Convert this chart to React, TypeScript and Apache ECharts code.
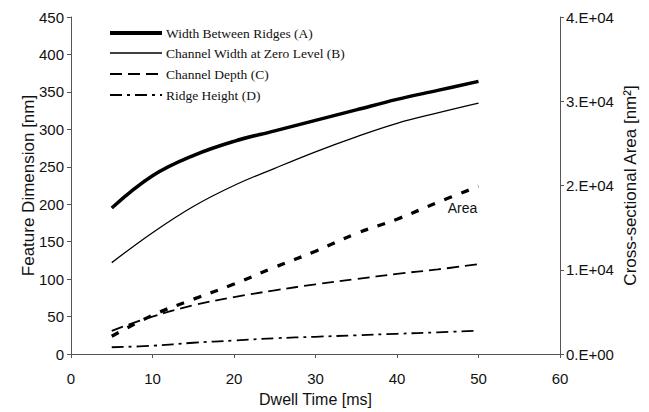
import React, { useEffect, useRef } from "react";
import * as echarts from "echarts";

const dwellTime = [5, 10, 15, 20, 25, 30, 35, 40, 45, 50];
const widthBetweenRidges = [195, 238, 265, 284, 298, 312, 326, 340, 352, 364];
const channelWidthZero = [122, 162, 197, 225, 248, 270, 290, 308, 322, 335];
const channelDepth = [31, 50, 65, 76, 85, 93, 100, 107, 113, 120];
const ridgeHeight = [9, 11, 15, 18, 21, 23, 25, 27, 29, 31];
const crossArea = [2100, 4600, 6500, 8300, 10300, 12200, 14300, 16000, 18000, 19900];

const legendNames = [
  "Width Between Ridges (A)",
  "Channel Width at Zero Level (B)",
  "Channel Depth (C)",
  "Ridge Height (D)",
];

const pair = (ys: number[]) => dwellTime.map((x, i) => [x, ys[i]]);

export default function App() {
  const ref = useRef<HTMLDivElement>(null);
  useEffect(() => {
    if (!ref.current) return;
    const chart = echarts.init(ref.current, undefined, { renderer: "svg" });
    const axisColor = "#555";
    const txt = "#111";
    const sans = "Liberation Sans, Arial, sans-serif";
    const serif = "Liberation Serif, Times New Roman, serif";
    const legendStyles = [
      { lineWidth: 4, lineDash: null },
      { lineWidth: 1.5, lineDash: null },
      { lineWidth: 2, lineDash: [12, 6] },
      { lineWidth: 2, lineDash: [12, 5, 3, 5] },
    ];
    const legendY = [33, 53, 74, 95];
    const graphic: any[] = [];
    legendNames.forEach((n, i) => {
      graphic.push({
        type: "line",
        shape: { x1: 110, y1: legendY[i], x2: 162, y2: legendY[i] },
        style: {
          stroke: "#000",
          lineWidth: legendStyles[i].lineWidth,
          lineDash: legendStyles[i].lineDash,
        },
      });
      graphic.push({
        type: "text",
        x: 166,
        y: legendY[i],
        style: {
          text: n,
          fill: txt,
          font: `13.5px ${serif}`,
          verticalAlign: "middle",
          textAlign: "left",
        },
      });
    });

    chart.setOption({
      animation: false,
      backgroundColor: "#fff",
      grid: { left: 71, right: 89, top: 17, bottom: 54 },
      xAxis: {
        type: "value",
        min: 0,
        max: 60,
        interval: 10,
        name: "Dwell Time [ms]",
        nameLocation: "middle",
        nameGap: 37,
        nameTextStyle: { fontFamily: sans, fontSize: 16, color: txt },
        axisLine: { lineStyle: { color: axisColor, width: 1 } },
        axisTick: { show: true, length: 4, lineStyle: { color: axisColor } },
        axisLabel: { fontFamily: sans, fontSize: 15, color: txt, margin: 17 },
        splitLine: { show: false },
      },
      yAxis: [
        {
          type: "value",
          min: 0,
          max: 450,
          interval: 50,
          name: "Feature Dimension [nm]",
          nameLocation: "middle",
          nameRotate: 90,
          nameGap: 34,
          nameMoveOverlap: false,
          nameTextStyle: { fontFamily: sans, fontSize: 17, color: txt },
          axisLine: { show: true, lineStyle: { color: axisColor, width: 1 } },
          axisTick: { show: true, length: 4, lineStyle: { color: axisColor } },
          axisLabel: { fontFamily: sans, fontSize: 15, color: txt, margin: 7 },
          splitLine: { show: false },
        },
        {
          type: "value",
          min: 0,
          max: 40000,
          interval: 10000,
          position: "right",
          name: "Cross-sectional Area [nm²]",
          nameLocation: "middle",
          nameRotate: 90,
          nameGap: 62,
          nameMoveOverlap: false,
          nameTextStyle: { fontFamily: sans, fontSize: 17, color: txt },
          axisLine: { show: true, lineStyle: { color: axisColor, width: 1 } },
          axisTick: { show: true, length: 4, lineStyle: { color: axisColor } },
          axisLabel: {
            fontFamily: sans,
            fontSize: 15,
            color: txt,
            margin: 6,
            formatter: (v: number) => (v === 0 ? "0.E+00" : `${v / 10000}.E+04`),
          },
          splitLine: { show: false },
        },
      ],
      graphic,
      series: [
        {
          name: legendNames[0],
          type: "line",
          data: pair(widthBetweenRidges),
          smooth: 0.4,
          showSymbol: false,
          lineStyle: { color: "#000", width: 3.5 },
        },
        {
          name: legendNames[1],
          type: "line",
          data: pair(channelWidthZero),
          smooth: 0.4,
          showSymbol: false,
          lineStyle: { color: "#000", width: 1.3 },
        },
        {
          name: legendNames[2],
          type: "line",
          data: pair(channelDepth),
          smooth: 0.4,
          showSymbol: false,
          lineStyle: { color: "#000", width: 1.8, type: [12, 6] },
        },
        {
          name: legendNames[3],
          type: "line",
          data: pair(ridgeHeight),
          smooth: 0.4,
          showSymbol: false,
          lineStyle: { color: "#000", width: 1.8, type: [12, 5, 3, 5] },
        },
        {
          name: "Area",
          type: "line",
          yAxisIndex: 1,
          data: pair(crossArea),
          smooth: 0.4,
          showSymbol: false,
          lineStyle: { color: "#000", width: 3.3, type: [8, 10] },
          markPoint: {
            symbol: "circle",
            symbolSize: 0,
            data: [{ coord: [dwellTime[9], crossArea[9]], value: "Area" }],
            label: {
              show: true,
              position: "inside",
              offset: [-16, 22],
              formatter: "Area",
              fontFamily: sans,
              fontSize: 14,
              color: txt,
            },
          },
        },
      ],
    });
    return () => chart.dispose();
  }, []);
  return (
    <div
      ref={ref}
      style={{ position: "absolute", left: 0, top: 0, width: 649, height: 412 }}
    />
  );
}
